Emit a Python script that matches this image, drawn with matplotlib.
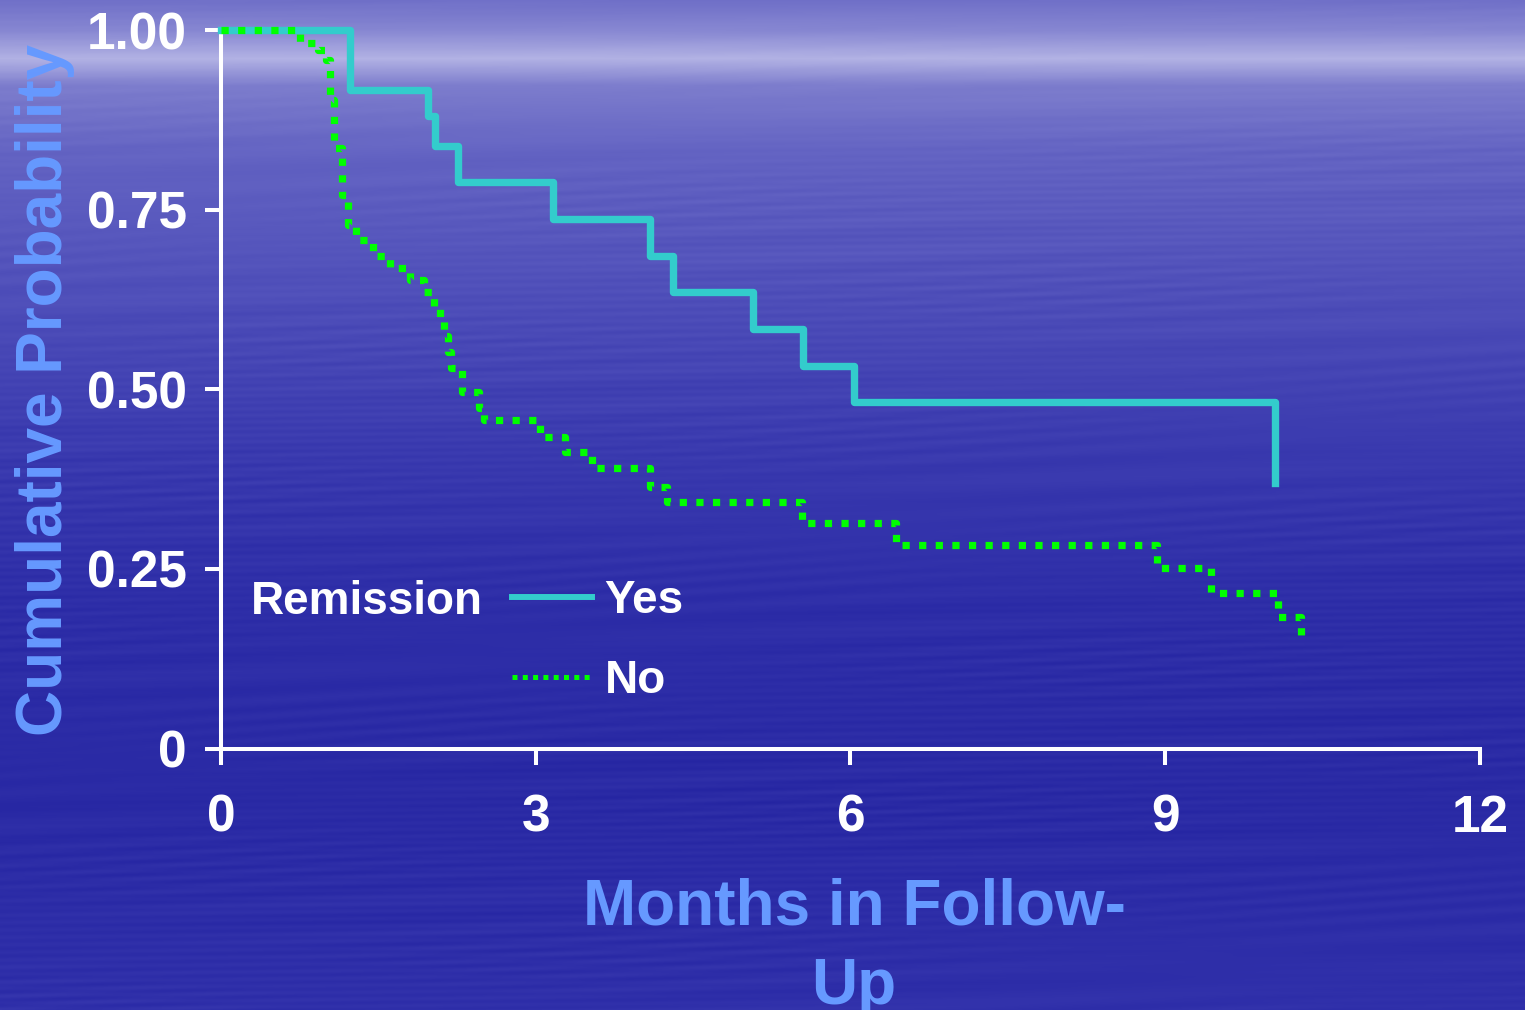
import numpy as np
import matplotlib
matplotlib.use("Agg")
import matplotlib.pyplot as plt
from matplotlib.lines import Line2D

plt.rcParams["font.family"] = ["Liberation Sans", "DejaVu Sans"]
plt.rcParams["font.weight"] = "bold"
plt.rcParams["axes.labelweight"] = "bold"

# Kaplan-Meier style survival estimates (months, cumulative probability)
yes_months = [0.0, 1.229, 1.969, 2.038, 2.260, 3.167, 4.086, 4.310, 5.067, 5.552, 6.038, 10.048]
yes_surv = [1.0, 0.916, 0.880, 0.838, 0.789, 0.737, 0.685, 0.636, 0.584, 0.532, 0.482, 0.369]

no_months = [0.0, 0.752, 0.924, 1.000, 1.038, 1.076, 1.152, 1.210, 1.286, 1.448, 1.610,
             1.800, 1.933, 2.029, 2.086, 2.124, 2.162, 2.190, 2.295, 2.457, 2.505,
             3.038, 3.276, 3.533, 4.086, 4.248, 5.533, 6.438, 8.924, 9.438, 10.076, 10.295]
no_surv = [1.0, 0.982, 0.972, 0.958, 0.903, 0.836, 0.770, 0.729, 0.708, 0.685, 0.669,
           0.652, 0.635, 0.614, 0.596, 0.574, 0.552, 0.530, 0.496, 0.474, 0.457,
           0.434, 0.413, 0.390, 0.364, 0.343, 0.314, 0.283, 0.251, 0.216, 0.183, 0.155]

x_ticks = [0, 3, 6, 9, 12]
y_ticks = [0, 0.25, 0.50, 0.75, 1.00]
y_tick_labels = ["0", "0.25", "0.50", "0.75", "1.00"]
group_labels = ["Yes", "No"]
legend_title = "Remission"
x_label = "Months in Follow-\nUp"
y_label = "Cumulative Probability"

CYAN = "#33CCCC"
GREEN = "#00FF00"
LABEL_BLUE = "#6699FF"

W, H = 1525, 1010
fig = plt.figure(figsize=(W / 100, H / 100), dpi=100)

# Sea-like backdrop: bright haze near the top fading into deep blue
yy = np.arange(H, dtype=float)[:, None]
xx = np.arange(W, dtype=float)[None, :]
stops_y = [0, 30, 58, 85, 150, 300, 450, 600, 800, 1010]
stops_r = [112, 135, 178, 125, 100, 78, 58, 46, 42, 48]
stops_b = [200, 210, 228, 205, 195, 185, 175, 168, 165, 170]
r = np.interp(yy[:, 0], stops_y, stops_r)[:, None] * np.ones((1, W))
b = np.interp(yy[:, 0], stops_y, stops_b)[:, None] * np.ones((1, W))
ripple = (np.sin(xx * 0.021 + yy * 0.35 + np.sin(xx * 0.004 + yy * 0.05) * 4.0)
          * np.sin(xx * 0.0031 - yy * 0.017) * 3.0
          + np.sin(xx * 0.009 + yy * 0.9 + np.sin(yy * 0.03) * 2.0)
          * np.cos(xx * 0.0017 + yy * 0.006) * 2.5)
ripple *= np.clip(yy / 200.0, 0.3, 1.0)
r = np.clip(r + ripple, 0, 255)
b = np.clip(b + ripple * 0.6, 0, 255)
bg = np.dstack([r, r, b]) / 255.0

bg_ax = fig.add_axes([0, 0, 1, 1], zorder=-10)
bg_ax.imshow(bg, aspect="auto", interpolation="bilinear")
bg_ax.set_axis_off()

ax = fig.add_axes([221 / W, 1 - 748.5 / H, 1259 / W, 718.5 / H])
ax.patch.set_alpha(0)

ax.step(yes_months, yes_surv, where="post", color=CYAN, lw=5.3, clip_on=False, zorder=3)
ax.step(no_months, no_surv, where="post", color=GREEN, lw=5.2,
        linestyle=(0, (1, 1.3)), dash_capstyle="butt", clip_on=False, zorder=4)

ax.set_xlim(0, 12)
ax.set_ylim(0, 1)
for side in ("top", "right"):
    ax.spines[side].set_visible(False)
for side in ("left", "bottom"):
    ax.spines[side].set_color("white")
    ax.spines[side].set_linewidth(2.9)

ax.set_xticks(x_ticks)
ax.set_yticks(y_ticks)
ax.set_yticklabels(y_tick_labels)
ax.tick_params(axis="both", colors="white", width=2.9, length=11.5, labelsize=37)
ax.tick_params(axis="x", pad=21)
ax.tick_params(axis="y", pad=13)

ax.set_xlabel(x_label, fontsize=46, color=LABEL_BLUE, linespacing=1.4, fontweight="bold")
ax.xaxis.set_label_coords(0.5028, -0.180)
ax.set_ylabel(y_label, fontsize=46, color=LABEL_BLUE, va="center", fontweight="bold")
ax.yaxis.set_label_coords(-0.1398, 0.499)

handles = [Line2D([0], [0], color=CYAN, lw=4.3),
           Line2D([0], [0], color=GREEN, lw=3.6, linestyle=(0, (1, 1.06)))]
ax.legend(handles, group_labels, loc="center left",
          bbox_to_anchor=(512 / W, 1 - 641 / H), bbox_transform=fig.transFigure,
          frameon=False, fontsize=33, handlelength=1.74, handletextpad=0.28,
          labelspacing=0.8, borderpad=0, borderaxespad=0, labelcolor="white")
fig.text(251 / W, 1 - 614 / H, legend_title, fontsize=33, color="white",
         ha="left", va="baseline")

fig.savefig("out.png", dpi=100)
